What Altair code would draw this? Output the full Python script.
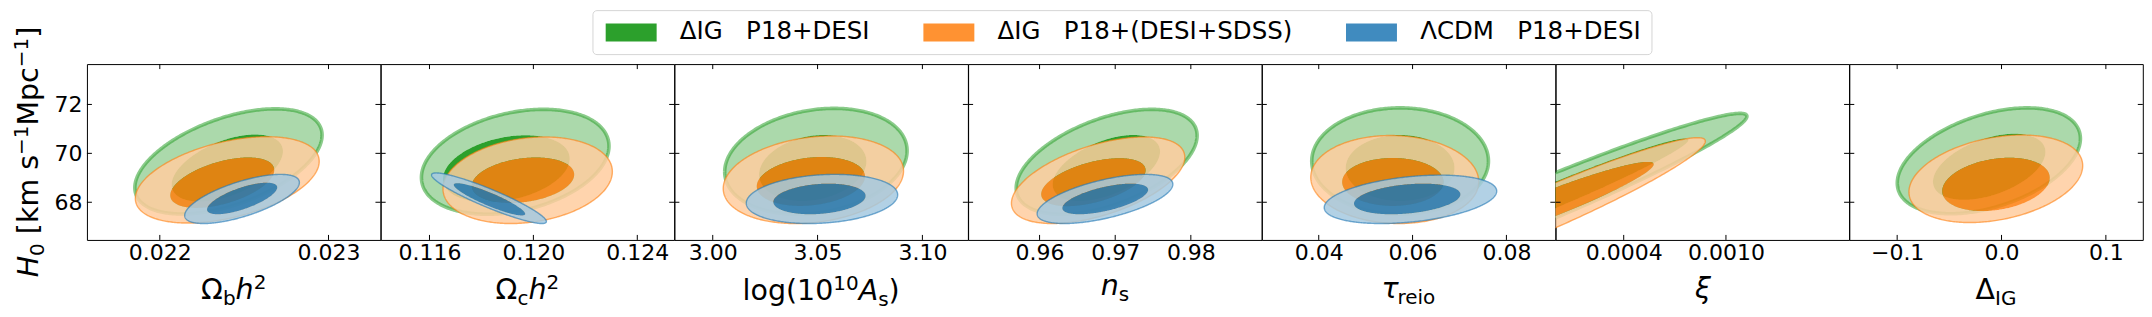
import numpy as np
import pandas as pd
import altair as alt

FONT = "DejaVu Sans"

# ---------------- data ----------------
LABELS = ["ΔIG\u00a0\u00a0\u00a0P18+DESI",
          "ΔIG\u00a0\u00a0\u00a0P18+(DESI+SDSS)",
          "ΛCDM\u00a0\u00a0\u00a0P18+DESI"]
LEGEND_COLORS = ["#2ca02c", "#ff9232", "#408bbf"]

X_DOMAINS = [[0.021568, 0.023308], [0.11412, 0.12542], [2.9817, 3.1217],
             [0.95055, 0.98936], [0.02787, 0.09043], [0.0, 0.0017226],
             [-0.1459, 0.1354]]
X_TICKS = [[0.022, 0.023], [0.116, 0.120, 0.124], [3.00, 3.05, 3.10],
           [0.96, 0.97, 0.98], [0.04, 0.06, 0.08], [0.0004, 0.0010],
           [-0.1, 0.0, 0.1]]
X_FORMATS = [".3f", ".3f", ".2f", ".2f", ".2f", ".4f", ".1f"]
Y_DOMAIN = [66.46, 73.65]
Y_TICKS = [68, 70, 72]

# contour ellipses: centre (cx, cy), half extents (hx, hy), tilt rho, per panel
GREEN_95 = dict(cx=[0.022407, 0.1193, 3.0492, 0.96887, 0.05734, -0.0001, -0.01215],
                hx=[0.000555, 0.00361, 0.0435, 0.01196, 0.01883, 0.001223, 0.08775],
                cy=[69.67, 69.655, 69.675, 69.655, 69.685, 68.0, 69.695],
                hy=[2.15, 2.145, 2.165, 2.145, 2.175, 3.635, 2.165],
                rho=[0.5, 0.3, 0.2, 0.5, 0.0, 0.967, 0.42])
GREEN_68 = dict(cx=[0.0224, 0.11896, 3.0477, 0.96883, 0.05734, -0.00005, -0.0118],
                hx=[0.00033, 0.00244, 0.0256, 0.0071, 0.0116, 0.00083, 0.0539],
                cy=[69.4, 69.37, 69.4, 69.4, 69.4, 68.16, 69.45],
                hy=[1.37, 1.37, 1.35, 1.35, 1.35, 2.447, 1.35],
                rho=[0.5, 0.3, 0.2, 0.5, 0.0, 0.975, 0.45])
ORANGE_95 = dict(cx=[0.0224, 0.11978, 3.048, 0.96774, 0.0562, -0.0001, -0.00545],
                 hx=[0.000545, 0.00326, 0.043, 0.01146, 0.0179, 0.000979, 0.08325],
                 cy=[68.915, 68.9, 68.92, 68.9, 68.93, 67.58, 68.96],
                 hy=[1.765, 1.77, 1.79, 1.77, 1.8, 3.061, 1.79],
                 rho=[0.43, 0.2, 0.2, 0.53, -0.05, 0.953, 0.3])
ORANGE_68 = dict(cx=[0.02237, 0.1196, 3.0468, 0.96711, 0.05579, -0.00005, -0.0053],
                 hx=[0.000308, 0.00197, 0.0258, 0.0069, 0.0108, 0.000626, 0.0515],
                 cy=[68.8, 68.9, 68.85, 68.82, 68.83, 67.89, 68.73],
                 hy=[1.03, 0.93, 1.0, 0.98, 0.98, 1.761, 1.09],
                 rho=[0.5, 0.25, 0.2, 0.5, 0.0, 0.944, 0.25])
BLUE_95 = dict(cx=[0.0224875, 0.11829, 3.0521, 0.96865, 0.05955, None, None],
               hx=[0.00034, 0.00221, 0.0361, 0.00897, 0.01838, None, None],
               cy=[68.135, 68.165, 68.135, 68.135, 68.12, None, None],
               hy=[1.005, 1.035, 1.005, 1.005, 0.99, None, None],
               rho=[0.67, -0.92, 0.17, 0.6, 0.34, None, None])
BLUE_68 = dict(cx=[0.022488, 0.11831, 3.0509, 0.96868, 0.05885, None, None],
               hx=[0.000208, 0.001375, 0.022, 0.00567, 0.01134, None, None],
               cy=[68.155, 68.12, 68.135, 68.135, 68.135, None, None],
               hy=[0.645, 0.66, 0.625, 0.625, 0.625, None, None],
               rho=[0.7, -0.9, 0.2, 0.6, 0.3, None, None])

TITLES = [
    [("Ω", "normal", "n"), ("b", "normal", "sub"), ("h", "italic", "n"), ("2", "normal", "sup")],
    [("Ω", "normal", "n"), ("c", "normal", "sub"), ("h", "italic", "n"), ("2", "normal", "sup")],
    [("log(10", "normal", "n"), ("10", "normal", "sup"), ("A", "italic", "n"), ("s", "normal", "sub"), (")", "normal", "n")],
    [("n", "italic", "n"), ("s", "normal", "sub")],
    [("τ", "italic", "n"), ("reio", "normal", "sub")],
    [("ξ", "italic", "n")],
    [("Δ", "normal", "n"), ("IG", "normal", "sub")],
]
YTITLE = [("H", "italic", "n"), ("0", "normal", "sub"), (" ", "normal", "n"),
          ("[km s", "normal", "n"), ("−1", "normal", "sup"), ("Mpc", "normal", "n"),
          ("−1", "normal", "sup"), ("]", "normal", "n")]

# ---------------- styling / layout ----------------
W, H = 293.8, 176
TITLE_BASE = [235, 235, 236, 231, 234, 234, 235]   # baseline below panel top
FS_MAIN, FS_SCRIPT = 28.5, 20.0
SUP_SHIFT, SUB_SHIFT = -10.0, 6.0
W_EM = {'Ω': 0.770, 'b': 0.635, 'h': 0.634, '2': 0.636, 'c': 0.550, 'l': 0.278, 'o': 0.612,
        'g': 0.635, '(': 0.390, ')': 0.390, '1': 0.636, '0': 0.636, 'A': 0.684, 's': 0.521,
        'n': 0.634, 'τ': 0.559, 'r': 0.411, 'e': 0.615, 'i': 0.278, 'ξ': 0.507, 'Δ': 0.684,
        'I': 0.295, 'G': 0.775, 'H': 0.752, ' ': 0.318, '[': 0.390, ']': 0.390, 'k': 0.579,
        'm': 0.974, 'M': 0.863, 'p': 0.635, '−': 0.838}

SETS = [  # (95%, 68%, fill95, fill68, opacity, line colour, line width, line opacity)
    (GREEN_95, GREEN_68, "#abd9ab", "#2ca02c", 1.0, "#2ca02c", 3.6, 0.55),
    (ORANGE_95, ORANGE_68, "#ffcc9f", "#ff7f0e", 0.85, "#ff7f0e", 1.4, 0.6),
    (BLUE_95, BLUE_68, "#a5c9e1", "#1f77b4", 0.85, "#1f77b4", 1.4, 0.6),
]

ONE = pd.DataFrame({"k": [0]})


def ellipse(p, i, n=180):
    cx, hx, cy, hy, rho = (p[k][i] for k in ("cx", "hx", "cy", "hy", "rho"))
    t = np.linspace(np.pi, 0.0, n)
    s = np.sqrt(1.0 - rho ** 2)
    x = cx + hx * np.cos(t)
    up = cy + hy * (rho * np.cos(t) + s * np.sin(t))
    lo = cy + hy * (rho * np.cos(t) - s * np.sin(t))
    return x, up, lo


def band_df(outer, inner, i):
    # outer ellipse left->right, then inner ellipse right->left: a ring (hole by winding)
    xo, uo, lo_ = ellipse(outer, i)
    xi, ui, li = ellipse(inner, i)
    x = np.concatenate([xo, xi[::-1]])
    y = np.concatenate([uo, ui[::-1]])
    y2 = np.concatenate([lo_, li[::-1]])
    return pd.DataFrame({"x": x, "y": y, "y2": y2})


def fill_df(p, i):
    x, up, lo = ellipse(p, i)
    return pd.DataFrame({"x": x, "y": up, "y2": lo})


def line_df(p, i):
    x, up, lo = ellipse(p, i)
    xx = np.concatenate([x, x[::-1]])
    yy = np.concatenate([up, lo[::-1]])
    return pd.DataFrame({"x": xx, "y": yy, "ord": np.arange(len(xx))})


def xenc(i, field="x"):
    return alt.X(f"{field}:Q",
                 scale=alt.Scale(domain=X_DOMAINS[i], nice=False, zero=False),
                 axis=alt.Axis(values=X_TICKS[i], format=X_FORMATS[i], ticks=False,
                               domain=False, grid=False, labelPadding=3,
                               labelFontSize=22, labelFont=FONT, labelColor="black",
                               labelFlush=False, labelOverlap=False, title=None))


def yenc(i, field="y"):
    if i == 0:
        ax = alt.Axis(values=Y_TICKS, format="d", ticks=False, domain=False, grid=False,
                      labelPadding=5, labelFontSize=22, labelFont=FONT,
                      labelColor="black", title=None)
    else:
        ax = None
    return alt.Y(f"{field}:Q", scale=alt.Scale(domain=Y_DOMAIN, nice=False, zero=False),
                 axis=ax, stack=None)


def seg_w(txt, kind):
    fs = FS_MAIN if kind == "n" else FS_SCRIPT
    return sum(W_EM.get(ch, 0.6) for ch in txt) * fs


def text_mark(txt, x, y, kind, style, angle=0):
    fs = FS_MAIN if kind == "n" else FS_SCRIPT
    return alt.Chart(ONE).mark_text(
        font=FONT, fontSize=fs, fontStyle=style, align="left",
        baseline="alphabetic", angle=angle, color="black"
    ).encode(x=alt.value(x), y=alt.value(y), text=alt.value(txt.replace(" ", "\u00a0")))


def shift(kind):
    return SUP_SHIFT if kind == "sup" else (SUB_SHIFT if kind == "sub" else 0.0)


def panel(i):
    layers = []
    for p95, p68, c95, c68, op, lc, lw, lo in SETS:
        if p95["cx"][i] is None:
            continue
        layers.append(alt.Chart(band_df(p95, p68, i)).mark_area(
            clip=True, orient="vertical", order=False, fill=c95, fillOpacity=op,
            strokeWidth=0
        ).encode(x=xenc(i), y=yenc(i), y2="y2:Q"))
        layers.append(alt.Chart(fill_df(p68, i)).mark_area(
            clip=True, orient="vertical", order=False, fill=c68, fillOpacity=op,
            strokeWidth=0
        ).encode(x=xenc(i), y=yenc(i), y2="y2:Q"))
        layers.append(alt.Chart(line_df(p95, i)).mark_line(
            clip=True, color=lc, strokeWidth=lw, strokeOpacity=lo
        ).encode(x=xenc(i), y=yenc(i), order=alt.Order("ord:Q")))

    xt = pd.DataFrame({"v": X_TICKS[i]})
    yt = pd.DataFrame({"v": Y_TICKS})
    tick = dict(color="black", strokeWidth=1)
    layers.append(alt.Chart(xt).mark_rule(**tick).encode(x=xenc(i, "v"), y=alt.value(H), y2=alt.value(H - 5)))
    layers.append(alt.Chart(xt).mark_rule(**tick).encode(x=xenc(i, "v"), y=alt.value(0), y2=alt.value(5)))
    layers.append(alt.Chart(yt).mark_rule(**tick).encode(y=yenc(i, "v"), x=alt.value(0), x2=alt.value(5)))
    layers.append(alt.Chart(yt).mark_rule(**tick).encode(y=yenc(i, "v"), x=alt.value(W - 5), x2=alt.value(W)))

    # x title (math-like text with sub/superscripts)
    segs = TITLES[i]
    total = sum(seg_w(t, k) for t, s, k in segs)
    x0 = W / 2 - total / 2
    for t, s, k in segs:
        layers.append(text_mark(t, x0, TITLE_BASE[i] + shift(k), k, s))
        x0 += seg_w(t, k)

    if i == 0:
        total = sum(seg_w(t, k) for t, s, k in YTITLE)
        y0 = H / 2 + total / 2
        xb = -49
        for t, s, k in YTITLE:
            if t.strip():
                layers.append(text_mark(t, xb + shift(k), y0, k, s, angle=270))
            y0 -= seg_w(t, k)
        layers.append(alt.Chart(pd.DataFrame({"set": LABELS})).mark_point(
            filled=True, opacity=0
        ).encode(fill=alt.Fill("set:N",
                               scale=alt.Scale(domain=LABELS, range=LEGEND_COLORS),
                               legend=alt.Legend(
                                   orient="none", legendX=506, legendY=-54,
                                   direction="horizontal", columns=3, title=None,
                                   labelFont=FONT, labelFontSize=24.5, labelColor="black",
                                   labelLimit=2000, symbolType="M-1,-1H4.667V1H-1Z",
                                   symbolSize=324, symbolStrokeWidth=0, symbolOpacity=1,
                                   labelOffset=53, columnPadding=50, padding=10,
                                   strokeColor="#d5d5d5", fillColor="white",
                                   cornerRadius=4))))
    return alt.layer(*layers).properties(width=W, height=H)


chart = alt.hconcat(*[panel(i) for i in range(7)], spacing=0, bounds="flush").properties(
    padding={"left": 3, "top": 1, "right": 0, "bottom": 0}
).configure_view(stroke="black", strokeWidth=1)

chart.save("out.html", embed_options={"renderer": "svg", "actions": False})
